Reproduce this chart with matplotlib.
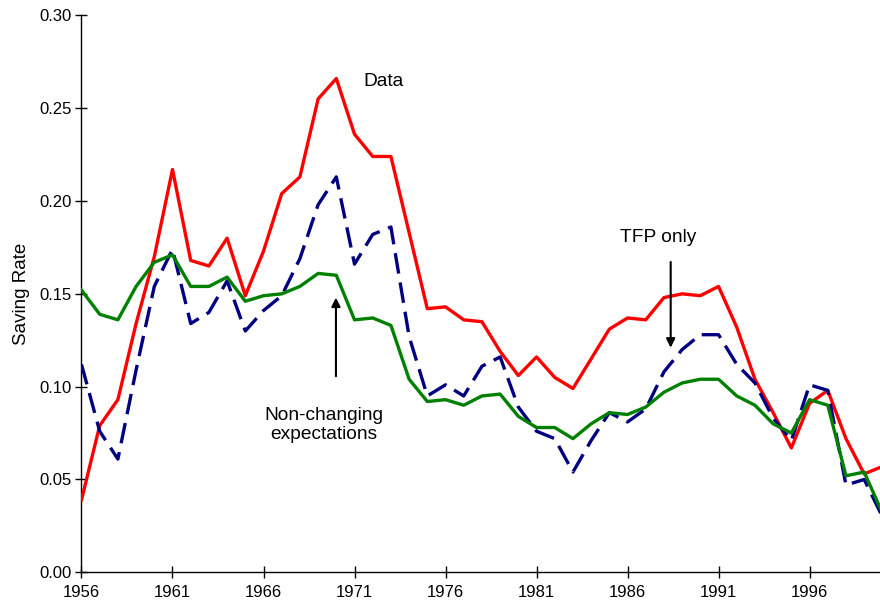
import matplotlib
matplotlib.use('Agg')
import matplotlib.pyplot as plt
import numpy as np

plt.rcParams['font.family'] = ['Liberation Sans', 'DejaVu Sans']

years = np.arange(1956, 2001)

# Data (red)
data = [0.039, 0.079, 0.093, 0.134, 0.170, 0.217, 0.168, 0.165, 0.180, 0.149,
        0.173, 0.204, 0.213, 0.255, 0.266, 0.236, 0.224, 0.224, 0.183, 0.142,
        0.143, 0.136, 0.135, 0.119, 0.106, 0.116, 0.105, 0.099, 0.115, 0.131,
        0.137, 0.136, 0.148, 0.150, 0.149, 0.154, 0.132, 0.104, 0.086, 0.067,
        0.091, 0.098, 0.072, 0.053, 0.057]

# TFP only (blue dashed)
tfp_only = [0.112, 0.076, 0.061, 0.109, 0.154, 0.174, 0.134, 0.140, 0.157, 0.130,
            0.141, 0.149, 0.169, 0.198, 0.213, 0.166, 0.182, 0.186, 0.127, 0.095,
            0.101, 0.095, 0.111, 0.116, 0.089, 0.076, 0.072, 0.054, 0.071, 0.086,
            0.081, 0.088, 0.108, 0.120, 0.128, 0.128, 0.112, 0.102, 0.083, 0.071,
            0.101, 0.098, 0.047, 0.050, 0.030]

# Non-changing expectations (green)
non_changing = [0.152, 0.139, 0.136, 0.154, 0.167, 0.171, 0.154, 0.154, 0.159, 0.146,
                0.149, 0.150, 0.154, 0.161, 0.160, 0.136, 0.137, 0.133, 0.104, 0.092,
                0.093, 0.090, 0.095, 0.096, 0.084, 0.078, 0.078, 0.072, 0.080, 0.086,
                0.085, 0.089, 0.097, 0.102, 0.104, 0.104, 0.095, 0.090, 0.080, 0.075,
                0.093, 0.090, 0.052, 0.054, 0.032]

fig = plt.figure(figsize=(8.8, 6.08), dpi=100)
ax = fig.add_axes([0.0926, 0.0587, 0.9074, 0.916])

ax.plot(years, data, color='#ff0000', lw=2.4, zorder=3)
ax.plot(years, tfp_only, color='#000080', lw=2.4, dashes=(6.2, 2.7), zorder=4)
ax.plot(years, non_changing, color='#008000', lw=2.4, zorder=5)

ax.set_xlim(1956, 1999.87)
ax.set_ylim(0, 0.30)
ax.set_xticks(np.arange(1956, 2000, 5))
ax.set_yticks(np.arange(0, 0.31, 0.05))
ax.set_yticklabels(['%.2f' % v for v in np.arange(0, 0.31, 0.05)])

for side in ['top', 'right']:
    ax.spines[side].set_visible(False)
for side in ['left', 'bottom']:
    ax.spines[side].set_linewidth(1.0)
ax.tick_params(axis='both', direction='inout', length=8, width=1.0, labelsize=12, pad=3)
ax.tick_params(axis='x', pad=5)

ax.set_ylabel('Saving Rate', fontsize=13.5, labelpad=7)

ax.text(1972.6, 0.2646, 'Data', fontsize=13.8, ha='center', va='center')
ax.text(1987.7, 0.1805, 'TFP only', fontsize=13.8, ha='center', va='center')
ax.text(1969.3, 0.0793, 'Non-changing\nexpectations', fontsize=13.8,
        ha='center', va='center', linespacing=1.15)

arrow_style = dict(arrowstyle='-|>', color='black', lw=1.5, mutation_scale=13)
ax.annotate('', xy=(1988.37, 0.1195), xytext=(1988.37, 0.1687), arrowprops=arrow_style)
ax.annotate('', xy=(1969.98, 0.1495), xytext=(1969.98, 0.1041), arrowprops=arrow_style)

plt.savefig('out.png', dpi=100)
